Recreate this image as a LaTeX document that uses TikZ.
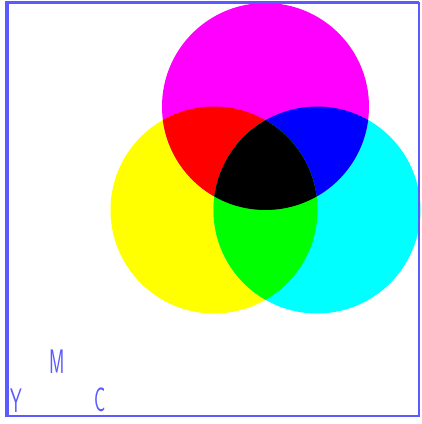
\documentclass[tikz,border=0pt]{standalone}
\begin{document}
\begin{tikzpicture}[x=1pt,y=-1pt,
  framecol/.style={draw=frameblue},
  lbl/.style={text=frameblue,font=\sffamily\fontsize{34}{34}\selectfont,inner sep=0pt,xscale=0.55}]
\definecolor{frameblue}{RGB}{90,90,255}
\definecolor{pm}{RGB}{255,0,255}
\definecolor{py}{RGB}{255,255,0}
\definecolor{pc}{RGB}{0,255,255}
\definecolor{pr}{RGB}{255,0,0}
\definecolor{pb}{RGB}{0,0,255}
\definecolor{pg}{RGB}{0,255,0}
\useasboundingbox (0,0) rectangle (422,424);
\def\r{103.5}
\coordinate (m) at (265.5,106.5);
\coordinate (y) at (214,210);
\coordinate (c) at (317,210);
% base circles
\fill[py] (y) circle (\r);
\fill[pc] (c) circle (\r);
\fill[pm] (m) circle (\r);
% pairwise overlaps
\begin{scope}
  \clip (y) circle (\r);
  \fill[pr] (m) circle (\r);
\end{scope}
\begin{scope}
  \clip (c) circle (\r);
  \fill[pb] (m) circle (\r);
\end{scope}
\begin{scope}
  \clip (y) circle (\r);
  \fill[pg] (c) circle (\r);
\end{scope}
\begin{scope}
  \clip (y) circle (\r);
  \clip (c) circle (\r);
  \fill[black] (m) circle (\r);
\end{scope}
% frame
\draw[framecol,line width=2pt] (8,3) rectangle (419,416);
\draw[framecol,line width=3pt] (7,2) -- (419,2);
\draw[framecol,line width=3.5pt] (7,1) -- (7,417);
% labels
\node[lbl] (lm) at (57,361.5) {M};
\node[lbl] (ly) at (16,400.5) {Y};
\node[lbl] (lc) at (100,400) {C};
\end{tikzpicture}
\end{document}
